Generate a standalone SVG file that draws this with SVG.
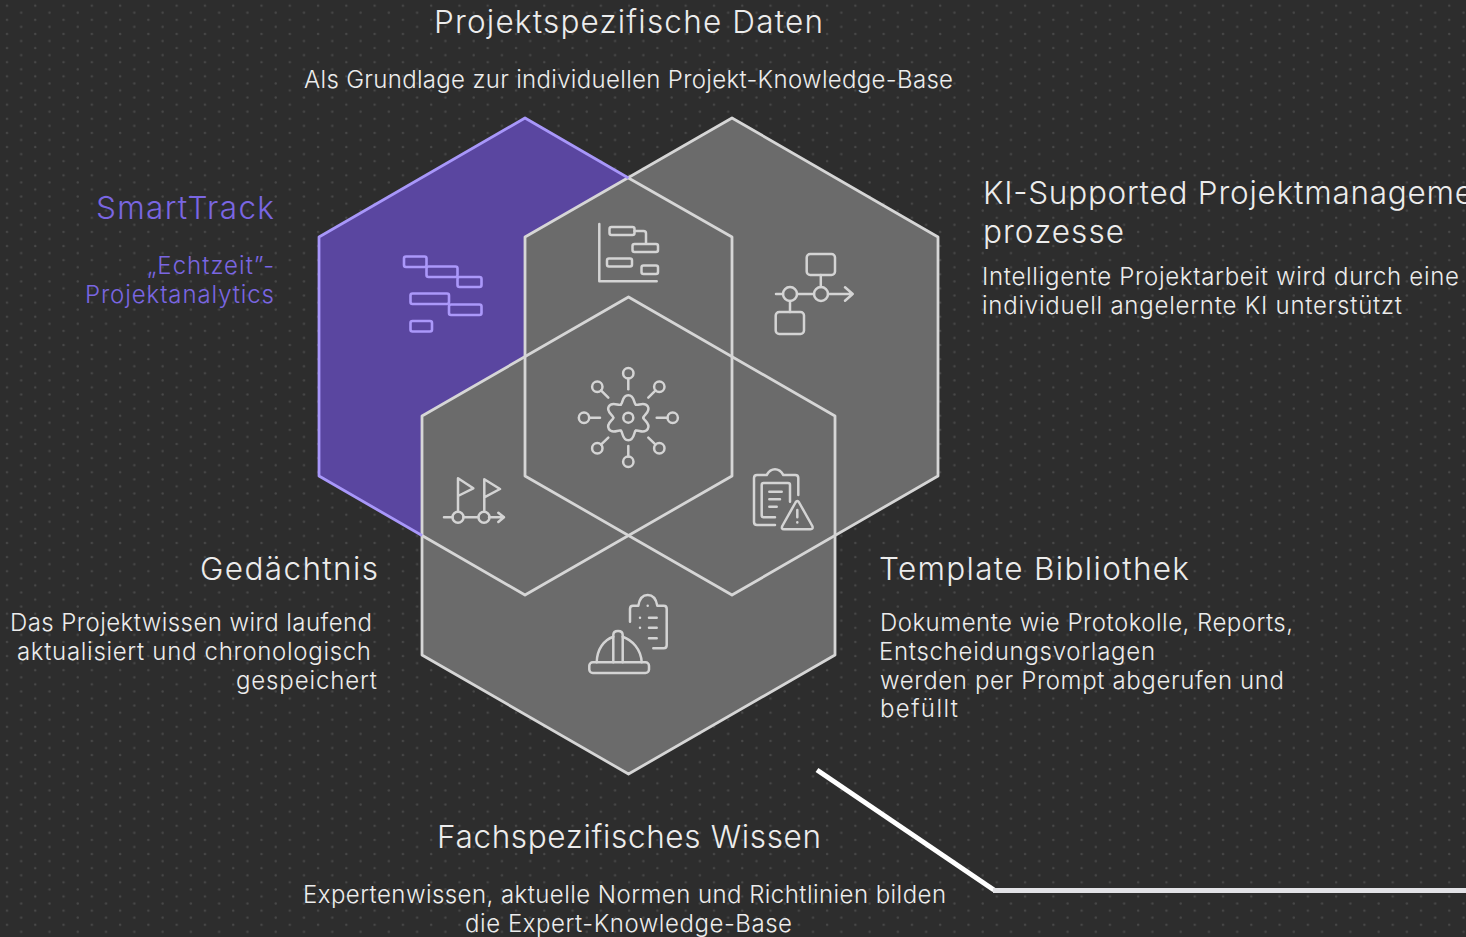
<svg xmlns="http://www.w3.org/2000/svg" width="1466" height="937" viewBox="0 0 1466 937">
<style>
text{font-family:"Inter","Liberation Sans",sans-serif;font-weight:300;fill:#ececec}
.t{font-size:31.500px}.b{font-size:24px}.p{fill:#7a66e2}
.hex{stroke:none}.line{fill:none;stroke:#d6d6d6;stroke-width:2.800;stroke-linejoin:round}
.pl{fill:none;stroke:#a897fa;stroke-width:2.800;stroke-linejoin:round}
.i{fill:none;stroke:#d4d4d4;stroke-width:2.500;stroke-linecap:round;stroke-linejoin:round}
.ip{fill:none;stroke:#ab98fa;stroke-width:2.600;stroke-linecap:round;stroke-linejoin:round}
</style>
<defs>
<pattern id="dots" width="28.28" height="14.14" patternUnits="userSpaceOnUse" x="0" y="0">
<circle cx="7" cy="5.700" r="1.200" fill="#484848"/>
<circle cx="21.200" cy="12.800" r="1.200" fill="#484848"/>
</pattern>
<path id="lobe" d="M-7.500-13C-5.200-14.300-6.500-22.500 0-22.500C6.500-22.500 5.200-14.300 7.500-13"/>
</defs>
<rect width="1466" height="937" fill="#2d2d2d"/>
<rect width="1466" height="937" fill="url(#dots)"/>
<g id="hexagons">
<polygon id="hex-smarttrack" class="hex" fill="#5a46a0" points="525,118 732,237 732,476 525,595 319,476 319,237"/>
<polygon id="hex-projekt" class="hex" fill="#6b6b6b" points="732,118 938,237 938,476 732,595 525,476 525,237"/>
<polygon id="hex-wissen" class="hex" fill="#6b6b6b" points="628.500,297 835,416 835,655 628.500,774 422,655 422,416"/>
<polygon class="line" points="732,118 938,237 938,476 732,595 525,476 525,237"/>
<polygon class="line" points="628.500,297 835,416 835,655 628.500,774 422,655 422,416"/>
<polyline class="line" points="628.500,178 732,237 732,476 525,595 422,535.500"/>
<polyline class="pl" points="628.500,178 525,118 319,237 319,476 422,535.500"/>
</g>
<g id="node-smarttrack">
<text class="t p" x="96" y="219" textLength="178">SmartTrack</text>
<text class="b p" x="147" y="274" textLength="127">„Echtzeit”-</text>
<text class="b p" x="85" y="303" textLength="189">Projektanalytics</text>
<g class="ip">
<rect x="404" y="256.500" width="22.500" height="10.500" rx="2"/>
<rect x="426.500" y="266.500" width="31" height="10.500" rx="2"/>
<rect x="457.500" y="277" width="24" height="10" rx="2"/>
<rect x="410.500" y="293.500" width="38.500" height="10.500" rx="2"/>
<rect x="449" y="304.500" width="32.500" height="10.500" rx="2"/>
<rect x="410.500" y="321" width="21.500" height="10.500" rx="2"/>
</g>
</g>
<g id="node-daten">
<text class="t" x="434" y="33" textLength="389">Projektspezifische Daten</text>
<text class="b" x="304" y="88" textLength="649">Als Grundlage zur individuellen Projekt-Knowledge-Base</text>
<g class="i">
<path d="M599.300 224V281.300H656.700"/>
<rect x="609.500" y="227" width="25" height="8" rx="2"/>
<path d="M634.500 231H643.500Q646 231 646 233.500V243.500"/>
<rect x="632.500" y="244" width="25.500" height="8" rx="2"/>
<rect x="607" y="258.500" width="25" height="8" rx="2"/>
<rect x="641.500" y="265.500" width="16.500" height="8.500" rx="2"/>
</g>
</g>
<g id="node-ki">
<text class="t" x="983" y="204" textLength="534">KI-Supported Projektmanagement-</text>
<text class="t" x="983" y="243" textLength="141">prozesse</text>
<text class="b" x="982" y="285" textLength="477">Intelligente Projektarbeit wird durch eine</text>
<text class="b" x="982" y="314" textLength="420">individuell angelernte KI unterstützt</text>
<g class="i">
<rect x="806.700" y="254" width="28.300" height="21" rx="3.500"/>
<path d="M820.800 275V287"/>
<circle cx="821" cy="294" r="7"/>
<circle cx="790" cy="294" r="7"/>
<path d="M776 294H783M797 294H814M828 294H852.700M845 287.300L852.700 294L845 300.700M790 301V312"/>
<rect x="775.700" y="312" width="28.300" height="22" rx="3.500"/>
</g>
</g>
<g id="node-zentrum">
<g class="i">
<circle cx="628.300" cy="417.700" r="5"/>
<g transform="translate(628.300 417.700)">
<use href="#lobe"/>
<use href="#lobe" transform="rotate(60)"/>
<use href="#lobe" transform="rotate(120)"/>
<use href="#lobe" transform="rotate(180)"/>
<use href="#lobe" transform="rotate(240)"/>
<use href="#lobe" transform="rotate(300)"/>
</g>
<circle cx="628.300" cy="373.300" r="5.200"/><path d="M628.300 378.500V389.300"/>
<circle cx="628.300" cy="461.700" r="5.200"/><path d="M628.300 456.500V446"/>
<circle cx="584" cy="417.700" r="5.200"/><path d="M589.200 417.700H600"/>
<circle cx="672.700" cy="417.700" r="5.200"/><path d="M667.500 417.700H656.700"/>
<circle cx="597.300" cy="386.700" r="5.200"/><path d="M601 390.400L608.300 397.700"/>
<circle cx="659.300" cy="386.700" r="5.200"/><path d="M655.600 390.400L648.300 397.700"/>
<circle cx="597.300" cy="448.300" r="5.200"/><path d="M601 444.600L608.300 437.700"/>
<circle cx="659.300" cy="448.300" r="5.200"/><path d="M655.600 444.600L648.300 437.700"/>
</g>
</g>
<g id="node-gedaechtnis">
<text class="t" x="200" y="580" textLength="178">Gedächtnis</text>
<text class="b" x="10" y="631" textLength="362">Das Projektwissen wird laufend</text>
<text class="b" x="17" y="660" textLength="354">aktualisiert und chronologisch</text>
<text class="b" x="236" y="689" textLength="141">gespeichert</text>
<g class="i">
<path d="M444 517.300H452.500M463.500 517.300H478M489 517.300H504M498.300 512.700L504 517.300L498.300 522"/>
<circle cx="458" cy="517.300" r="5.500"/>
<circle cx="484" cy="517.300" r="5.500"/>
<path d="M458 511.800V478.300L473.300 488.300L458 496"/>
<path d="M484.300 511.800V479.300L500 489L484.300 497.300"/>
</g>
</g>
<g id="node-template">
<text class="t" x="879" y="580" textLength="310">Template Bibliothek</text>
<text class="b" x="880" y="631" textLength="413">Dokumente wie Protokolle, Reports,</text>
<text class="b" x="879" y="660" textLength="276">Entscheidungsvorlagen</text>
<text class="b" x="880" y="689" textLength="404">werden per Prompt abgerufen und</text>
<text class="b" x="880" y="717" textLength="78">befüllt</text>
<g class="i">
<path d="M775 525H757Q754 525 754 522V478Q754 475 757 475H766.700Q770 469.300 775 469.300Q780 469.300 783.300 475H795.300Q798.300 475 798.300 478V495"/>
<path d="M775 517.300H763.700Q761.700 517.300 761.700 515.300V485Q761.700 483 763.700 483H788Q790 483 790 485V501.700"/>
<path d="M769.300 491.700H781.700M769.300 499.300H780M769.300 506.700H776.700"/>
<path d="M795.500 502.500Q797.300 499.500 799.100 502.500L812.300 526Q813.500 529.300 810.500 529.300H784Q781 529.300 782.300 526Z"/>
<path d="M797.300 510V517.300M797.300 522.300V522.400"/>
</g>
</g>
<g id="node-fachwissen">
<text class="t" x="437" y="848" textLength="384">Fachspezifisches Wissen</text>
<text class="b" x="303" y="903" textLength="643">Expertenwissen, aktuelle Normen und Richtlinien bilden</text>
<text class="b" x="465" y="932" textLength="327">die Expert-Knowledge-Base</text>
<g class="i">
<path d="M630 621.700V608.700Q630 605.700 633 605.700H638.300Q640 595 647.700 595Q655.400 595 657.300 605.700H663.700Q666.700 605.700 666.700 608.700V645.300Q666.700 648.300 663.700 648.300H653.300"/>
<path d="M647.700 605.700V605.800M649 617.700H656.700M649 627.700H656.700M649 638.300H656.700M640 617.700V617.800M640 627.700V627.800"/>
<rect x="589.300" y="662.300" width="59.700" height="10.700" rx="3.500"/>
<path d="M596.700 662.300C597 649 604 640 613.300 636.700M622.700 636.700C632 640 641 649 641.700 662.300"/>
<path d="M613.300 662.300V635Q613.300 631 618 631Q622.700 631 622.700 635V662.300"/>
</g>
</g>
<g id="connectors">
<path d="M817 770L994 890" fill="none" stroke="#ffffff" stroke-width="5"/>
<path d="M993 890.500H1466" fill="none" stroke="#e2e2e6" stroke-width="5"/>
</g>
</svg>
